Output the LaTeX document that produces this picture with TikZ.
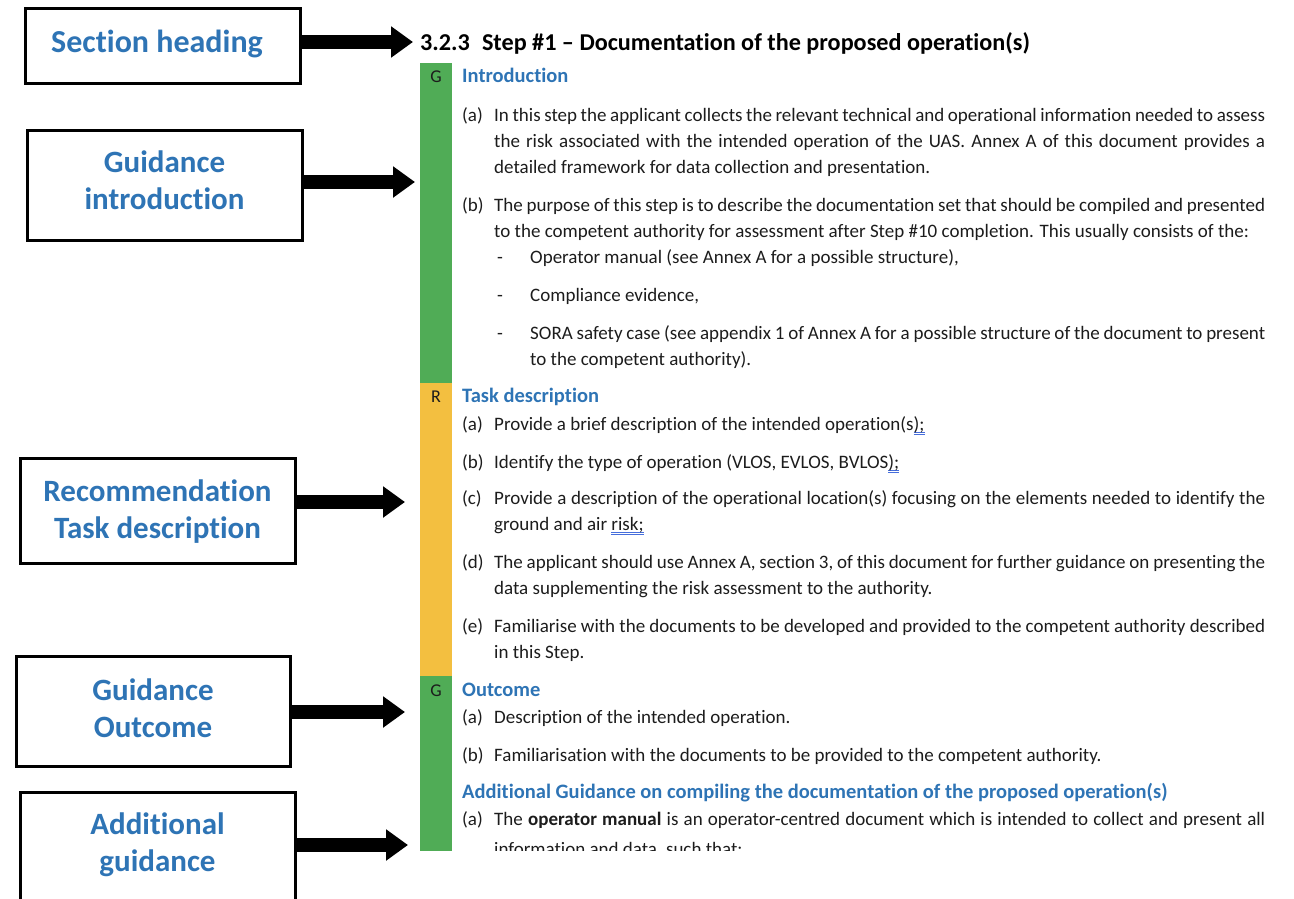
\documentclass[tikz,border=0pt]{standalone}
\usepackage{fontspec}
\setmainfont{Carlito}[Ligatures={TeX,NoCommon}]
\usetikzlibrary{arrows.meta}

\definecolor{docblue}{RGB}{46,116,181}
\definecolor{barGreen}{RGB}{80,172,86}
\definecolor{barYellow}{RGB}{243,191,64}
\definecolor{bodytext}{RGB}{28,28,28}
\definecolor{gramblue}{RGB}{70,110,220}

% double blue grammar underline
\newcommand\gram[1]{\setbox0\hbox{#1}%
  \rlap{\textcolor{gramblue}{\rule[-2.6pt]{\wd0}{0.8pt}}}%
  \rlap{\textcolor{gramblue}{\rule[-4.6pt]{\wd0}{0.8pt}}}\box0}
% justified lines of the body text
\newcommand\jfull[1]{\makebox[771pt][s]{#1}}
\newcommand\jbul[1]{\makebox[735pt][s]{#1}}

\begin{document}
\begin{tikzpicture}[x=1pt,y=-1pt,
  callout/.style={draw=black, line width=3pt, fill=white,
    minimum width=275pt, inner sep=0pt},
  calltext/.style={text=docblue, font=\fontsize{31}{37}\selectfont\bfseries,
    align=center, inner sep=0pt},
  pointer/.style={line width=14pt, -{Triangle[length=22pt,width=30pt]}},
  body/.style={anchor=base west, inner sep=0pt, text=bodytext,
    font=\fontsize{19}{22}\selectfont},
  subhead/.style={anchor=base west, inner sep=0pt, text=docblue,
    font=\fontsize{20.5}{24}\selectfont\bfseries},
  tag/.style={anchor=base, inner sep=0pt, text=bodytext,
    font=\fontsize{18}{20}\selectfont}]
\useasboundingbox (0,0) rectangle (1294,898);

% coloured margin bars
\fill[barGreen]  (420,63)  rectangle (452,383);
\fill[barYellow] (420,383) rectangle (452,676);
\fill[barGreen]  (420,676) rectangle (452,851);
\node[tag] (tagG1) at (436,82) {G};
\node[tag] (tagR)  at (436,402) {R};
\node[tag] (tagG2) at (436,696) {G};

% explanatory boxes and their captions
\node[callout, minimum height=75pt]  (secHead)   at (162.5,45.5) {};
\node[callout, minimum height=110pt] (guidIntro) at (164.5,185) {};
\node[callout, minimum height=105pt] (recTask)   at (157.5,510.5) {};
\node[callout, minimum height=110pt, minimum width=274pt] (guidOut) at (153,711) {};
\node[callout, minimum height=140pt, anchor=north] (addGuid) at (157.5,791) {};
\node[calltext, font=\fontsize{32}{37}\selectfont\bfseries] (secHeadText) at (157,43.5) {Section heading};
\node[calltext] (guidIntroText) at (164.5,180) {Guidance\\introduction};
\node[calltext] (recTaskText)   at (157.5,511.5) {Recommendation\\Task description};
\node[calltext] (guidOutText)   at (153,708) {Guidance\\Outcome};
\node[calltext] (addGuidText)   at (157.5,845) {Additional\\guidance};

% heading
\node[anchor=base west, inner sep=0pt, text=black, font=\fontsize{24.2}{28}\selectfont\bfseries]
  (heading) at (420,50) {3.2.3\hspace{0.5em}Step \#1 – Documentation of the proposed operation(s)};

% arrow targets
\coordinate (t1) at (413,42);
\coordinate (t2) at (415,182);
\coordinate (t3) at (405,502);
\coordinate (t4) at (405,712);
\coordinate (t5) at (408,845);
\draw[pointer] (secHead.east |- t1) -- (t1);
\draw[pointer] (guidIntro.east |- t2) -- (t2);
\draw[pointer] (recTask.east |- t3) -- (t3);
\draw[pointer] (guidOut.east |- t4) -- (t4);
\draw[pointer] (addGuid.east |- t5) -- (t5);

% Introduction
\node[subhead] (introHead) at (462,82) {Introduction};
\node[body] (ia) at (462,121) {(a)};
\node[body] (ia1) at (494,121) {\jfull{In this step the applicant collects the relevant technical and operational information needed to assess}};
\node[body] (ia2) at (494,147) {\jfull{the risk associated with the intended operation of the UAS. Annex A of this document provides a}};
\node[body] (ia3) at (494,173) {detailed framework for data collection and presentation.};
\node[body] (ib) at (462,211) {(b)};
\node[body] (ib1) at (494,211) {\jfull{The purpose of this step is to describe the documentation set that should be compiled and presented}};
\node[body] (ib2) at (494,237) {to the competent authority for assessment after Step \#10 completion. This usually consists of the:};
\node[body] (d1) at (497,263) {-};
\node[body] (b1) at (530,263) {Operator manual (see Annex A for a possible structure),};
\node[body] (d2) at (497,301) {-};
\node[body] (b2) at (530,301) {Compliance evidence,};
\node[body] (d3) at (497,339) {-};
\node[body] (b3a) at (530,339) {\jbul{SORA safety case (see appendix 1 of Annex A for a possible structure of the document to present}};
\node[body] (b3b) at (530,365) {to the competent authority).};

% Task description
\node[subhead] (taskHead) at (462,402) {Task description};
\node[body] (ta) at (462,430) {(a)};
\node[body] (ta1) at (494,430) {Provide a brief description of the intended operation(s\gram{);}};
\node[body] (tb) at (462,468) {(b)};
\node[body] (tb1) at (494,468) {Identify the type of operation (VLOS, EVLOS, BVLOS\gram{);}};
\node[body] (tc) at (462,504) {(c)};
\node[body] (tc1) at (494,504) {\jfull{Provide a description of the operational location(s) focusing on the elements needed to identify the}};
\node[body] (tc2) at (494,530) {ground and air \gram{risk;}};
\node[body] (td) at (462,568) {(d)};
\node[body] (td1) at (494,568) {\jfull{The applicant should use Annex A, section 3, of this document for further guidance on presenting the}};
\node[body] (td2) at (494,594) {data supplementing the risk assessment to the authority.};
\node[body] (te) at (462,632) {(e)};
\node[body] (te1) at (494,632) {\jfull{Familiarise with the documents to be developed and provided to the competent authority described}};
\node[body] (te2) at (494,658) {in this Step.};

% Outcome
\node[subhead] (outHead) at (462,696) {Outcome};
\node[body] (oa) at (462,723) {(a)};
\node[body] (oa1) at (494,723) {Description of the intended operation.};
\node[body] (ob) at (462,761) {(b)};
\node[body] (ob1) at (494,761) {Familiarisation with the documents to be provided to the competent authority.};

% Additional guidance
\node[subhead] (addHead) at (462,798) {Additional Guidance on compiling the documentation of the proposed operation(s)};
\node[body] (aa) at (462,825) {(a)};
\node[body] (aa1) at (494,825) {\jfull{The \textbf{operator manual} is an operator-centred document which is intended to collect and present all}};
\begin{scope}
  \clip (440,832) rectangle (1294,850);
  \node[body] (aa2) at (494,855) {information and data, such that:};
\end{scope}
\end{tikzpicture}
\end{document}
